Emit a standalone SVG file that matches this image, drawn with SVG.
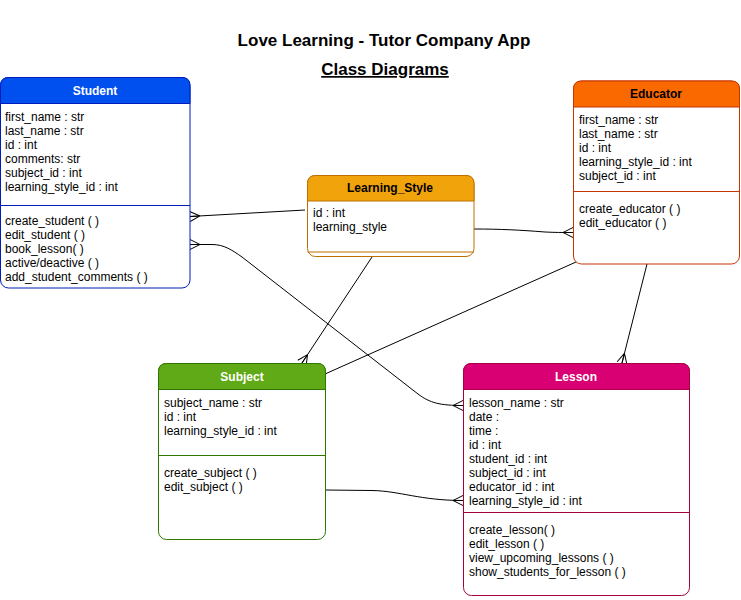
<svg xmlns="http://www.w3.org/2000/svg" width="741" height="600" viewBox="0 0 741 600">
<style>
.t{font-family:"Liberation Sans",Arial,Helvetica,sans-serif;font-size:12px;fill:#000}
.h{font-family:"Liberation Sans",Arial,Helvetica,sans-serif;font-size:12px;font-weight:bold;text-anchor:middle}
.title{font-family:"Liberation Sans",Arial,Helvetica,sans-serif;font-size:17px;font-weight:bold;text-anchor:middle;fill:#000}
.conn{fill:none;stroke:#000;stroke-width:1}
</style>
<defs>
<marker id="many" markerUnits="userSpaceOnUse" markerWidth="12" markerHeight="12" viewBox="-1 -6 12 12" refX="10" refY="0" orient="auto-start-reverse" overflow="visible">
<path d="M0,0 L10,-5 M0,0 L10,5 M0,0 L10,0" fill="none" stroke="#000" stroke-width="1"/>
</marker>
</defs>
<rect width="741" height="600" fill="#fff"/>
<g id="title">
<text class="title" x="384" y="46">Love Learning - Tutor Company App</text>
<text class="title" x="385" y="75" text-decoration="underline">Class Diagrams</text>
</g>
<g id="connectors">
<path class="conn" d="M190,216.5 L305,210" marker-start="url(#many)"/>
<path class="conn" d="M190,244.5 L212,244.5 C224,244.5 232,250 242,257 L418,394 C430,403 440,405.5 463,405.5" marker-start="url(#many)" marker-end="url(#many)"/>
<path class="conn" d="M474,229 C500,229 520,230 545,232 C555,232.5 562,232.5 573,232.5" marker-end="url(#many)"/>
<path class="conn" d="M372,257 L302,363" marker-end="url(#many)"/>
<path class="conn" d="M576,262 L325,374"/>
<path class="conn" d="M647,264 L622,363" marker-end="url(#many)"/>
<path class="conn" d="M325,490 L372,490.5 C400,491 420,500.5 463,500.5" marker-end="url(#many)"/>
</g>
<g id="student">
<rect x="0.5" y="77.5" width="189.5" height="210.5" rx="8" fill="#fff" stroke="#001DBC"/>
<path d="M0.5,103.5 L0.5,85.5 Q0.5,77.5 8.5,77.5 L182,77.5 Q190,77.5 190,85.5 L190,103.5 Z" fill="#0050EF" stroke="#001DBC"/>
<line x1="0.5" y1="205.5" x2="190" y2="205.5" stroke="#001DBC"/>
<text class="h" x="95" y="95" fill="#fff">Student</text>
<text class="t" x="5" y="121">first_name : str</text>
<text class="t" x="5" y="135">last_name : str</text>
<text class="t" x="5" y="149">id : int</text>
<text class="t" x="5" y="163">comments: str</text>
<text class="t" x="5" y="177">subject_id : int</text>
<text class="t" x="5" y="191">learning_style_id : int</text>
<text class="t" x="5" y="225">create_student ( )</text>
<text class="t" x="5" y="239">edit_student ( )</text>
<text class="t" x="5" y="253">book_lesson( )</text>
<text class="t" x="5" y="267">active/deactive ( )</text>
<text class="t" x="5" y="281">add_student_comments ( )</text>
</g>
<g id="learning_style">
<rect x="307.5" y="175.5" width="166.5" height="81" rx="8" fill="#fff" stroke="#BD7000"/>
<path d="M307.5,201 L307.5,183.5 Q307.5,175.5 315.5,175.5 L466,175.5 Q474,175.5 474,183.5 L474,201 Z" fill="#F0A30A" stroke="#BD7000"/>
<line x1="307.5" y1="252" x2="474" y2="252" stroke="#BD7000"/>
<text class="h" x="390" y="192" fill="#000">Learning_Style</text>
<text class="t" x="313" y="217">id : int</text>
<text class="t" x="313" y="231">learning_style</text>
</g>
<g id="educator">
<rect x="573.5" y="81" width="166" height="183" rx="8" fill="#fff" stroke="#C73500"/>
<path d="M573.5,107 L573.5,89 Q573.5,81 581.5,81 L731.5,81 Q739.5,81 739.5,89 L739.5,107 Z" fill="#FA6800" stroke="#C73500"/>
<line x1="573.5" y1="191.5" x2="739.5" y2="191.5" stroke="#C73500"/>
<text class="h" x="656" y="98" fill="#000">Educator</text>
<text class="t" x="579" y="124">first_name : str</text>
<text class="t" x="579" y="138">last_name : str</text>
<text class="t" x="579" y="152">id : int</text>
<text class="t" x="579" y="166">learning_style_id : int</text>
<text class="t" x="579" y="180">subject_id : int</text>
<text class="t" x="579" y="213">create_educator ( )</text>
<text class="t" x="579" y="227">edit_educator ( )</text>
</g>
<g id="subject">
<rect x="158.5" y="363.5" width="167" height="176" rx="8" fill="#fff" stroke="#2D7600"/>
<path d="M158.5,389.5 L158.5,371.5 Q158.5,363.5 166.5,363.5 L317.5,363.5 Q325.5,363.5 325.5,371.5 L325.5,389.5 Z" fill="#60A917" stroke="#2D7600"/>
<line x1="158.5" y1="455.5" x2="325.5" y2="455.5" stroke="#2D7600"/>
<text class="h" x="242" y="381" fill="#fff">Subject</text>
<text class="t" x="164" y="407">subject_name : str</text>
<text class="t" x="164" y="421">id : int</text>
<text class="t" x="164" y="435">learning_style_id : int</text>
<text class="t" x="164" y="477">create_subject ( )</text>
<text class="t" x="164" y="491">edit_subject ( )</text>
</g>
<g id="lesson">
<rect x="463.5" y="363.5" width="226" height="232" rx="8" fill="#fff" stroke="#A50040"/>
<path d="M463.5,389.5 L463.5,371.5 Q463.5,363.5 471.5,363.5 L681.5,363.5 Q689.5,363.5 689.5,371.5 L689.5,389.5 Z" fill="#D80073" stroke="#A50040"/>
<line x1="463.5" y1="512.5" x2="689.5" y2="512.5" stroke="#A50040"/>
<text class="h" x="576" y="381" fill="#fff">Lesson</text>
<text class="t" x="469" y="407">lesson_name : str</text>
<text class="t" x="469" y="421">date :</text>
<text class="t" x="469" y="435">time :</text>
<text class="t" x="469" y="449">id : int</text>
<text class="t" x="469" y="463">student_id : int</text>
<text class="t" x="469" y="477">subject_id : int</text>
<text class="t" x="469" y="491">educator_id : int</text>
<text class="t" x="469" y="505">learning_style_id : int</text>
<text class="t" x="469" y="534">create_lesson( )</text>
<text class="t" x="469" y="548">edit_lesson ( )</text>
<text class="t" x="469" y="562">view_upcoming_lessons ( )</text>
<text class="t" x="469" y="576">show_students_for_lesson ( )</text>
</g>
</svg>
